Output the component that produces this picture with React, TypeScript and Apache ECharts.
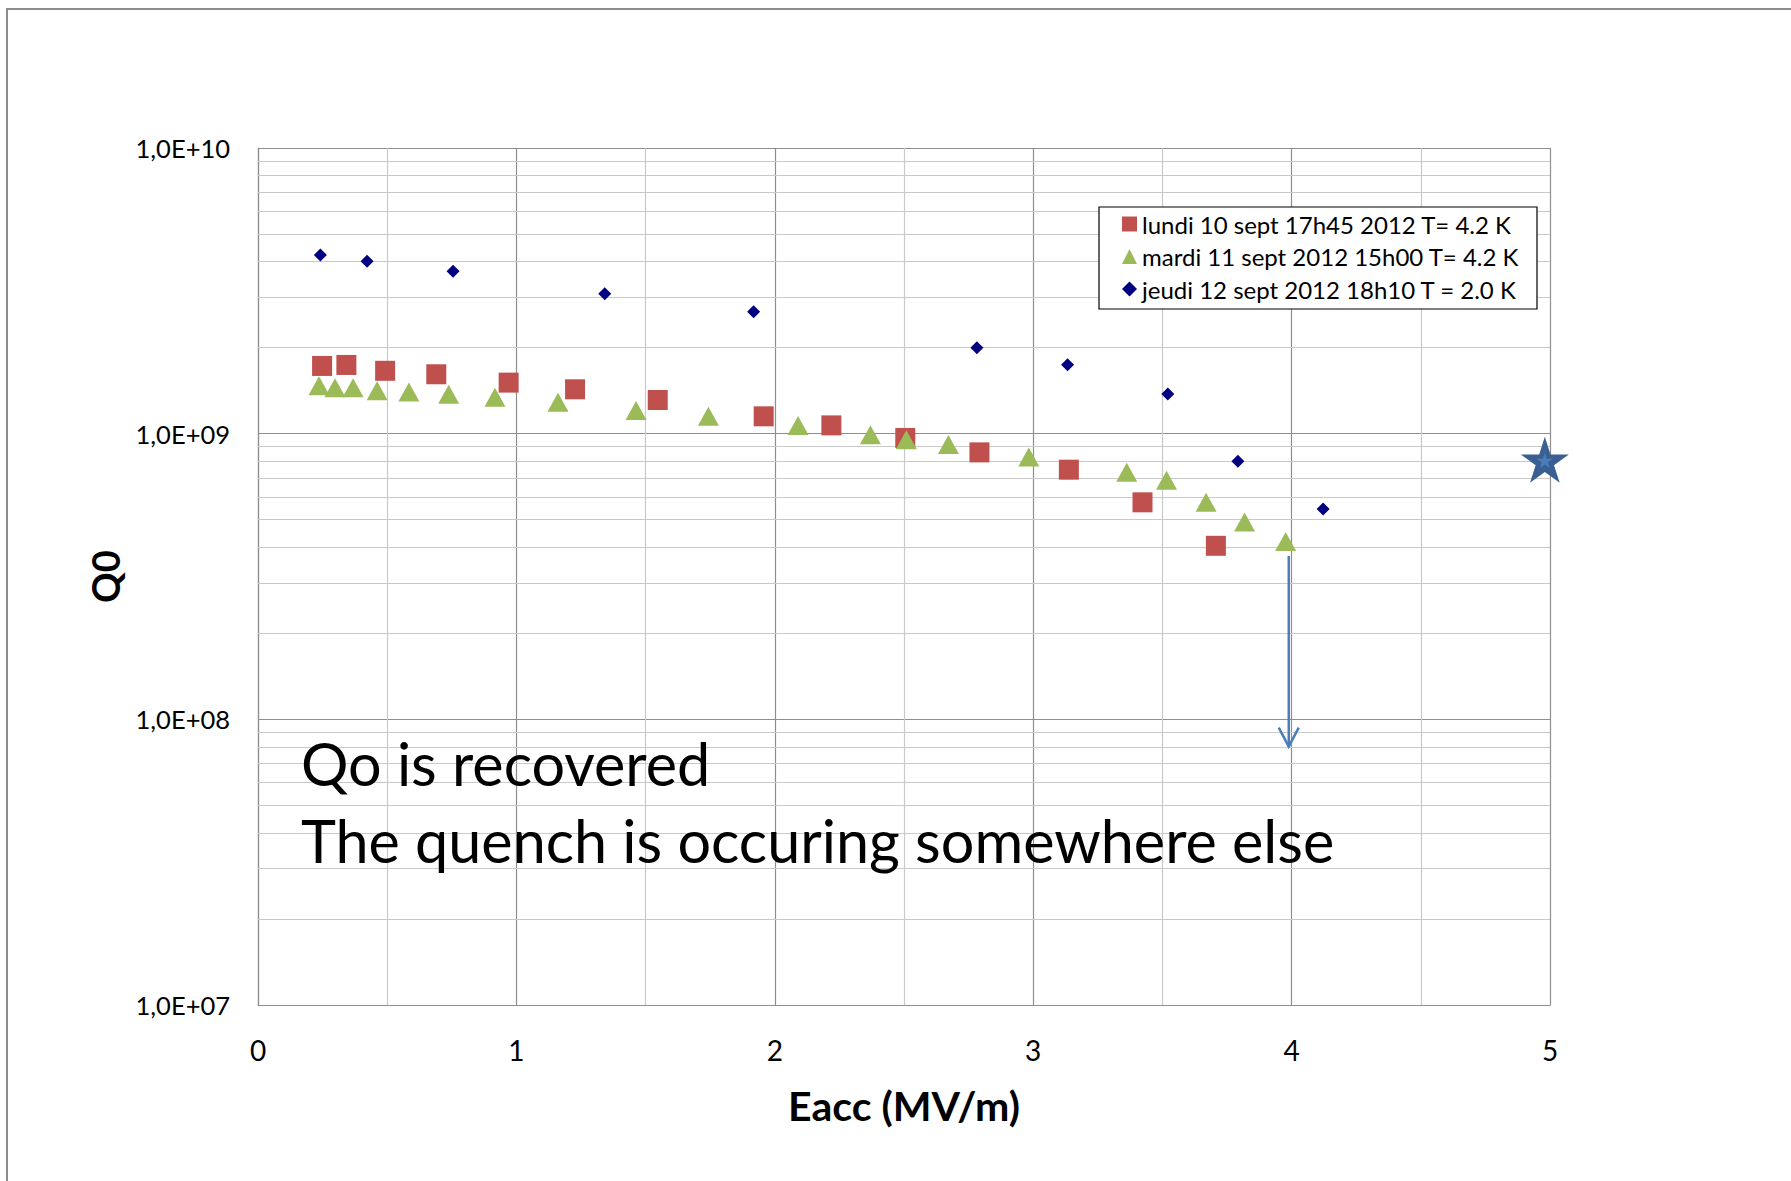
import React, { useEffect, useRef } from 'react';
import * as echarts from 'echarts';

// ---- data ----
const seriesNames = [
  'lundi 10 sept 17h45 2012 T= 4.2 K',
  'mardi 11 sept 2012 15h00 T= 4.2 K',
  'jeudi 12 sept 2012 18h10 T = 2.0 K',
];

const lundiX = [0.248, 0.342, 0.492, 0.69, 0.97, 1.227, 1.547, 1.957, 2.219, 2.505, 2.792, 3.138, 3.423, 3.707];
const lundiY = [1.726e9, 1.74e9, 1.66e9, 1.614e9, 1.509e9, 1.43e9, 1.312e9, 1.15e9, 1.069e9, 9.66e8, 8.6e8, 7.48e8, 5.75e8, 4.05e8];

const mardiX = [0.236, 0.298, 0.368, 0.461, 0.584, 0.738, 0.917, 1.161, 1.463, 1.743, 2.09, 2.37, 2.509, 2.672, 2.983, 3.362, 3.516, 3.669, 3.818, 3.977];
const mardiY = [1.472e9, 1.449e9, 1.449e9, 1.414e9, 1.4e9, 1.373e9, 1.34e9, 1.287e9, 1.206e9, 1.15e9, 1.069e9, 9.92e8, 9.53e8, 9.17e8, 8.28e8, 7.32e8, 6.87e8, 5.75e8, 4.91e8, 4.19e8];

const jeudiX = [0.2415, 0.422, 0.755, 1.342, 1.918, 2.782, 3.133, 3.521, 3.792, 4.122];
const jeudiY = [4.22e9, 4.01e9, 3.7e9, 3.09e9, 2.67e9, 2.0e9, 1.744e9, 1.377e9, 8.0e8, 5.45e8];

const starPoint = [4.98, 8.1e8];
const arrowStart = [3.989, 3.73e8];
const arrowEnd = [3.989, 8.03e7];

const noteLines = ['Qo is recovered', 'The quench is occuring somewhere else'];

const xMin = 0;
const xMax = 5;
const xInterval = 1;
const yMin = 1e7;
const yMax = 1e10;
const minorX = [0.5, 1.5, 2.5, 3.5, 4.5];
const minorMultipliers = [2, 3, 4, 5, 6, 7, 8, 9];
const minorDecades = [1e7, 1e8, 1e9];

const FONT = 'Lato, "Liberation Sans", sans-serif';
const STAR = 'path://M50,0L61.23,34.55L97.55,34.55L68.16,55.9L79.39,90.45L50,69.1L20.61,90.45L31.84,55.9L2.45,34.55L38.77,34.55Z';

const zip = (xs: number[], ys: number[]) => xs.map((x, i) => [x, ys[i]]);

export default function App() {
  const ref = useRef<HTMLDivElement>(null);

  useEffect(() => {
    if (!ref.current) return;
    const chart = echarts.init(ref.current, undefined, { renderer: 'svg' });

    const minorYValues: number[] = [];
    minorDecades.forEach((d) => minorMultipliers.forEach((m) => minorYValues.push(m * d)));

    const minorLine = { color: '#c9c9c9', width: 1.2, type: 'solid' as const };
    const majorLine = { color: '#8e8e8e', width: 1.2, type: 'solid' as const };

    chart.setOption({
      animation: false,
      backgroundColor: '#ffffff',
      grid: { left: 258, top: 148, width: 1292, height: 857, containLabel: false },
      legend: {
        orient: 'vertical',
        left: 1122,
        top: 212,
        padding: 0,
        z: 20,
        itemWidth: 15,
        itemHeight: 15,
        itemGap: 8.5,
        selectedMode: false,
        textStyle: { fontFamily: FONT, fontSize: 24, color: '#000', lineHeight: 24 },
        data: [
          { name: seriesNames[0], icon: 'rect' },
          { name: seriesNames[1], icon: 'triangle' },
          { name: seriesNames[2], icon: 'diamond' },
        ],
      },
      xAxis: {
        type: 'value',
        min: xMin,
        max: xMax,
        interval: xInterval,
        name: 'Eacc (MV/m)',
        nameLocation: 'middle',
        nameGap: 80,
        nameTextStyle: { fontFamily: FONT, fontWeight: 'bold', fontSize: 41, color: '#000' },
        axisLine: { show: true, lineStyle: { color: '#8e8e8e', width: 1.2 } },
        axisTick: { show: false },
        axisLabel: { fontFamily: FONT, fontSize: 28, color: '#000', margin: 31 },
        splitLine: { show: true, lineStyle: majorLine },
      },
      yAxis: {
        type: 'log',
        logBase: 10,
        min: yMin,
        max: yMax,
        name: 'Q0',
        nameLocation: 'middle',
        nameGap: 134,
        nameRotate: 90,
        nameTextStyle: { fontFamily: FONT, fontWeight: 'bold', fontSize: 38, color: '#000' },
        axisLine: { show: true, lineStyle: { color: '#8e8e8e', width: 1.2 } },
        axisTick: { show: false },
        axisLabel: {
          fontFamily: FONT,
          fontSize: 25.5,
          color: '#000',
          margin: 28,
          formatter: (v: number) => '1,0E+' + String(Math.round(Math.log10(v))).padStart(2, '0'),
        },
        splitLine: { show: true, lineStyle: majorLine },
      },
      series: [
        {
          name: 'minor-grid',
          type: 'scatter',
          data: [],
          z: 1,
          silent: true,
          markLine: {
            silent: true,
            z: 1,
            symbol: ['none', 'none'],
            label: { show: false },
            lineStyle: minorLine,
            emphasis: { disabled: true },
            data: [
              ...minorYValues.map((v) => ({ yAxis: v })),
              ...minorX.map((v) => ({ xAxis: v })),
            ],
          },
        },
        {
          name: seriesNames[0],
          type: 'scatter',
          symbol: 'rect',
          symbolSize: 20,
          z: 3,
          itemStyle: { color: '#c0504d', opacity: 1 },
          data: zip(lundiX, lundiY),
        },
        {
          name: seriesNames[1],
          type: 'scatter',
          symbol: 'triangle',
          symbolSize: [21, 19],
          z: 3,
          itemStyle: { color: '#9bbb59', opacity: 1 },
          data: zip(mardiX, mardiY),
        },
        {
          name: seriesNames[2],
          type: 'scatter',
          symbol: 'diamond',
          symbolSize: 13,
          z: 4,
          itemStyle: { color: '#000080', opacity: 1 },
          data: zip(jeudiX, jeudiY),
        },
        {
          name: 'star',
          type: 'scatter',
          symbol: STAR,
          symbolSize: [48, 46],
          z: 5,
          itemStyle: { color: '#3a5f93', opacity: 1 },
          data: [starPoint],
        },
        {
          name: 'star-inner',
          type: 'scatter',
          symbol: STAR,
          symbolSize: [16, 15],
          z: 6,
          itemStyle: { color: '#4a7ebb', opacity: 1 },
          data: [[starPoint[0], starPoint[1] * 0.995]],
        },
      ],
    });

    const p1 = chart.convertToPixel({ gridIndex: 0 }, arrowStart) as number[];
    const p2 = chart.convertToPixel({ gridIndex: 0 }, arrowEnd) as number[];

    chart.setOption({
      graphic: [
        {
          type: 'rect',
          z: 0,
          silent: true,
          shape: { x: 7, y: 9, width: 1800, height: 1200 },
          style: { fill: 'none', stroke: '#8c8c8c', lineWidth: 2 },
        },
        {
          type: 'rect',
          z: 15,
          silent: true,
          shape: { x: 1099, y: 207, width: 438, height: 102 },
          style: { fill: '#ffffff', stroke: '#000000', lineWidth: 1.2 },
        },
        {
          type: 'line',
          z: 6,
          silent: true,
          shape: { x1: p1[0], y1: p1[1], x2: p2[0], y2: p2[1] },
          style: { stroke: '#4a7ebb', lineWidth: 2.5 },
        },
        {
          type: 'polyline',
          z: 6,
          silent: true,
          shape: { points: [[p2[0] - 10, p2[1] - 19], [p2[0], p2[1]], [p2[0] + 10, p2[1] - 19]] },
          style: { stroke: '#4a7ebb', lineWidth: 2.5, fill: 'none' },
        },
        {
          type: 'text',
          z: 7,
          silent: true,
          x: 301,
          y: 763,
          style: { text: noteLines[0], fontFamily: FONT, fontSize: 59.3, fill: '#000', align: 'left', verticalAlign: 'middle' },
        },
        {
          type: 'text',
          z: 7,
          silent: true,
          x: 301,
          y: 840,
          style: { text: noteLines[1], fontFamily: FONT, fontSize: 59.3, fill: '#000', align: 'left', verticalAlign: 'middle' },
        },
      ],
    });

    return () => chart.dispose();
  }, []);

  return (
    <div
      ref={ref}
      style={{ position: 'fixed', left: 0, top: 0, width: 1791, height: 1181, background: '#fff' }}
    />
  );
}
